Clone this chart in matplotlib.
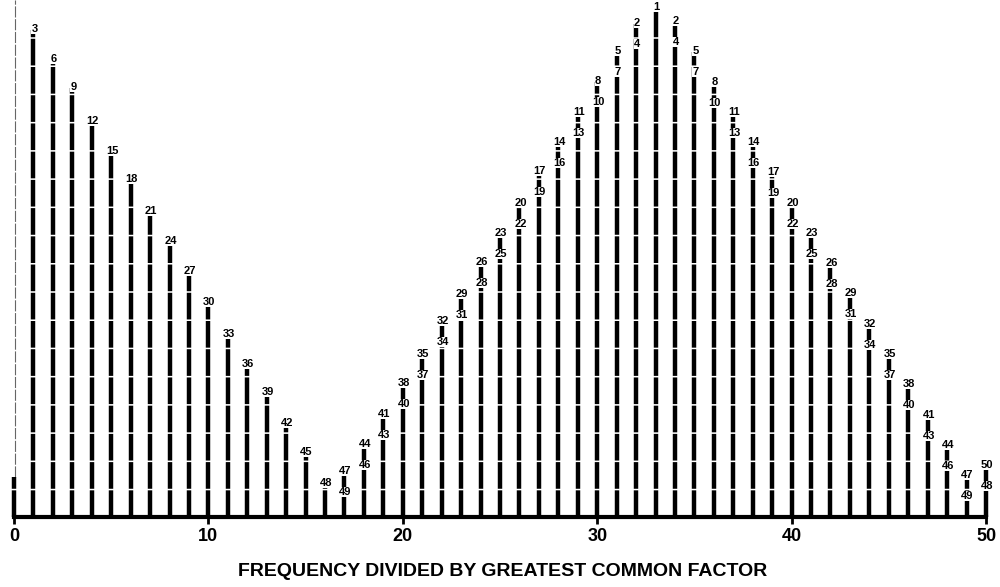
import matplotlib.pyplot as plt

# частоты (делённые на НОД) и высоты линий
freq = list(range(51))
heights = [40, 487, 457, 429, 395, 365, 337, 305, 275, 245,
           214, 182, 152, 124, 93, 64, 33, 45, 72, 102,
           133, 162, 195, 222, 254, 283, 313, 345, 374, 404,
           435, 465, 493, 509, 495, 465, 434, 404, 374, 344,
           313, 283, 253, 223, 192, 162, 132, 101, 71, 41, 51]

# подписи у вершин: верхняя и нижняя (пустая строка - нет подписи)
upper = [""] + [str(3 * k) for k in range(1, 17)] \
    + [str(3 * (33 - k) - 1) for k in range(17, 33)] + ["1"] \
    + [str(3 * (k - 33) - 1) for k in range(34, 50)] + ["50"]
lower = [""] * 17 \
    + [str(3 * (33 - k) + 1) for k in range(17, 33)] + [""] \
    + [str(3 * (k - 33) + 1) for k in range(34, 50)] + ["48"]

xticks = [0, 10, 20, 30, 40, 50]

fig = plt.figure(figsize=(10, 5.87), dpi=100)
ax = fig.add_axes([0, 70 / 587, 1, 517 / 587])
ax.set_xlim(-0.72, 50.72)
ax.set_ylim(0, 517)
for s in ax.spines.values():
    s.set_visible(False)

# тонкая ось слева
ax.plot([0.05, 0.05], [40, 517], color='#666666', lw=0.8,
        linestyle=(0, (10, 1.5)), clip_on=False)

# вертикальные линии спектра
for x, h in zip(freq, heights):
    ax.plot([x, x], [0, h], color='black', lw=3.2,
            linestyle=(0, (6, 0.35)), solid_capstyle='butt')

# подписи
for x, h, u, l in zip(freq, heights, upper, lower):
    if u:
        ax.text(x + 0.05, h + 1, u, fontsize=8, fontweight='bold',
                ha='center', va='center', family='Liberation Sans',
                bbox=dict(facecolor='white', edgecolor='none', pad=0.2))
    if l:
        ax.text(x + 0.05, h - 20, l, fontsize=8, fontweight='bold',
                ha='center', va='center', family='Liberation Sans',
                bbox=dict(facecolor='white', edgecolor='none', pad=0.2))

# базовая линия
ax.plot([0, 50], [0, 0], color='black', lw=3, clip_on=False)

ax.set_yticks([])
ax.set_xticks(xticks)
ax.set_xticklabels([str(t) for t in xticks], fontsize=13,
                   fontweight='bold', family='Liberation Sans')
ax.tick_params(axis='x', direction='out', length=5, width=2, pad=3)

fig.text(0.503, 1 - 571 / 587, "FREQUENCY DIVIDED BY GREATEST COMMON FACTOR",
         fontsize=14, fontweight='bold', family='Liberation Sans',
         ha='center', va='center')

plt.savefig("out.png", dpi=100)
